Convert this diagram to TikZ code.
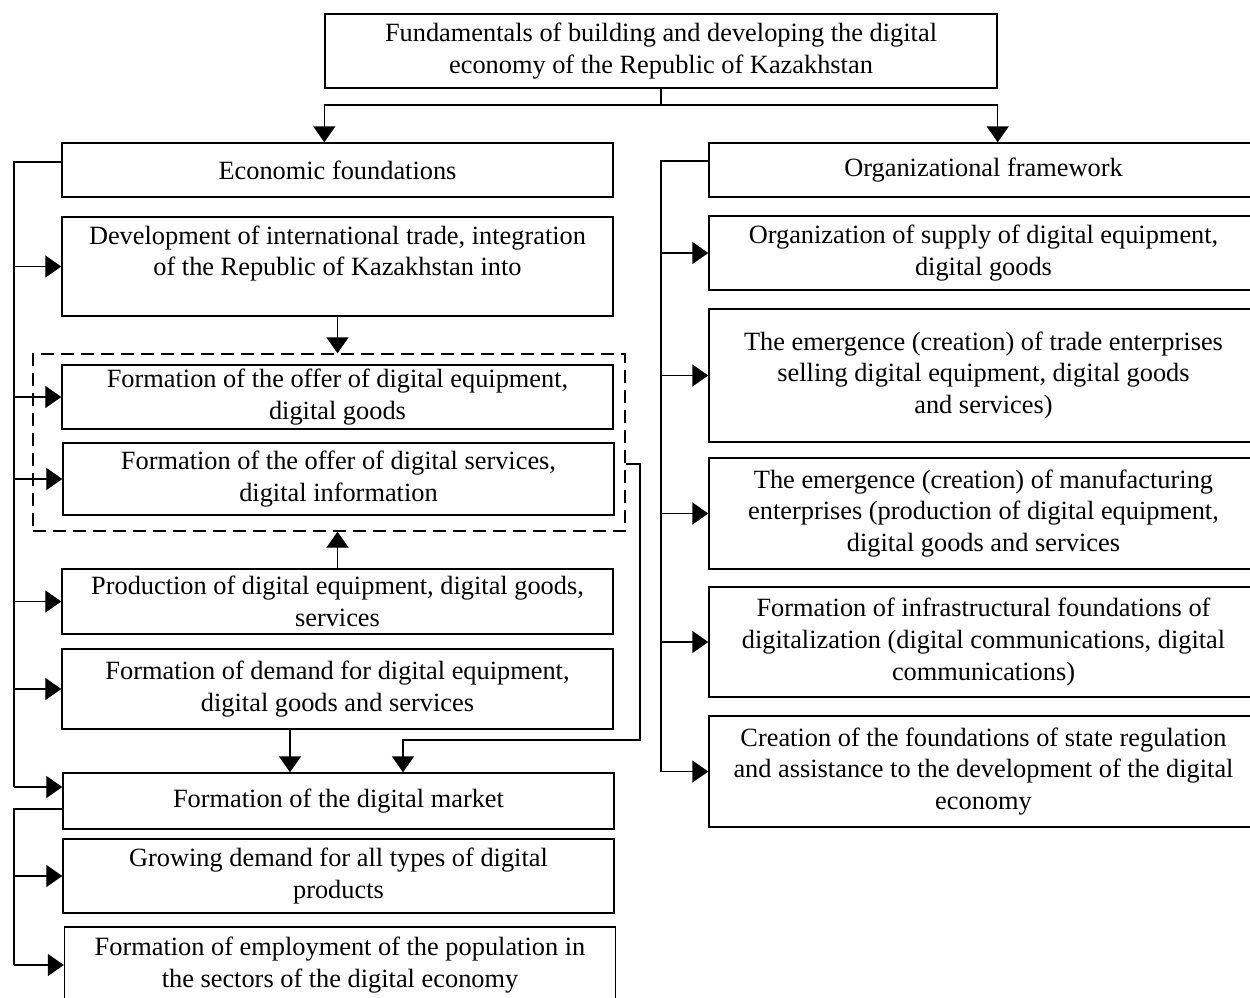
\documentclass[tikz,border=0pt]{standalone}
\usepackage{fontspec}
\setmainfont{Liberation Serif}
\usetikzlibrary{arrows.meta,positioning,calc}
\newcommand\blockfont{\fontsize{15}{18}\selectfont}
\tikzset{
  block/.style={draw,rectangle,align=center,inner sep=0pt,font=\blockfont},
  leftb/.style={block,minimum width=110.2mm},
  rightb/.style={block,minimum width=109.8mm},
  groupbox/.style={draw,dash pattern=on 2.6mm off 1.4mm,minimum width=118.4mm,minimum height=35.4mm}
}

\begin{document}
\begin{tikzpicture}[x=.2mm,y=-.2mm,line width=.8pt,>={Triangle[length=3.2mm,width=4.4mm]}]
  \useasboundingbox (0,0) rectangle (1250,997);
  \node[block,minimum width=134.4mm,minimum height=14.8mm] (top) at (661,51)
    {Fundamentals of building and developing the digital\\economy of the Republic of Kazakhstan};

  % left column
  \node[leftb,minimum height=10.8mm] (eco) at (337.5,170) {Economic foundations};
  \node[leftb,minimum height=19.8mm] (dev) at (337.5,266.5)
    {Development of international trade, integration\\of the Republic of Kazakhstan into\\\mbox{}};
  \node[groupbox] (offer) at (329,442.5) {};
  \node[leftb,minimum height=12.8mm] (offg) at (337.5,397)
    {Formation of the offer of digital equipment,\\digital goods};
  \node[leftb,minimum height=14.4mm] (offs) at (338.5,479)
    {Formation of the offer of digital services,\\digital information};
  \node[leftb,minimum height=13mm] (prod) at (337.5,601.5)
    {Production of digital equipment, digital goods,\\services};
  \node[leftb,minimum height=16mm] (dem) at (337.5,689)
    {Formation of demand for digital equipment,\\digital goods and services};
  \node[leftb,minimum height=11.2mm] (mkt) at (338.5,801) {Formation of the digital market};
  \node[leftb,minimum height=14.8mm] (grow) at (338.5,876)
    {Growing demand for all types of digital\\products};
  \node[leftb,minimum height=15.2mm] (empl) at (340,965)
    {Formation of employment of the population in\\the sectors of the digital economy};

  % right column
  \node[rightb,minimum height=10.8mm] (org) at (983.5,170) {Organizational framework};
  \node[rightb,minimum height=14.8mm] (sup) at (983.5,253)
    {Organization of supply of digital equipment,\\digital goods};
  \node[rightb,minimum height=26.6mm] (trade) at (983.5,375.5)
    {The emergence (creation) of trade enterprises\\selling digital equipment, digital goods\\and services)};
  \node[rightb,minimum height=22.2mm] (manu) at (983.5,513.5)
    {The emergence (creation) of manufacturing\\enterprises (production of digital equipment,\\digital goods and services};
  \node[rightb,minimum height=22mm] (infra) at (983.5,642)
    {Formation of infrastructural foundations of\\digitalization (digital communications, digital\\communications)};
  \node[rightb,minimum height=22.2mm] (creat) at (983.5,771.5)
    {Creation of the foundations of state regulation\\and assistance to the development of the digital\\economy};

  % split under the title
  \coordinate (fork) at (661,105);
  \draw (top) -- (fork);
  \draw[->] (fork) -| (top.south west |- eco.north);
  \draw[->] (fork) -| (top.south east |- org.north);

  % left bus
  \coordinate (lbus) at (14,162);
  \coordinate (lend) at (14,787);
  \draw (eco.west |- lbus) -- (lbus) -- (lend);
  \foreach \b in {dev,offg,offs,prod,dem}
    \draw[->] (lbus |- \b.west) -- (\b.west);
  \draw[->] (lend) -- (mkt.west |- lend);

  \draw[->] (dev.south) -- (dev.south |- offer.north);
  \draw[->] (prod.north) -- (prod.north |- offer.south);
  \draw[->] ([xshift=-9.5mm]dem.south) -- ([xshift=-9.5mm]dem.south |- mkt.north);
  \coordinate (loop) at (640,464);
  \coordinate (drop) at (403,740);
  \draw[->] (offer.east |- loop) -- (loop) |- (drop) -- (drop |- mkt.north);

  % market bus
  \coordinate (mbus) at (14,809);
  \draw (mkt.west |- mbus) -- (mbus) -- (mbus |- empl.west);
  \draw[->] (mbus |- grow.west) -- (grow.west);
  \draw[->] (mbus |- empl.west) -- (empl.west);

  % right bus
  \coordinate (rbus) at (661,161);
  \draw (org.west |- rbus) -- (rbus) -- (rbus |- creat.west);
  \foreach \b in {sup,trade,manu,infra,creat}
    \draw[->] (rbus |- \b.west) -- (\b.west);
\end{tikzpicture}
\end{document}
